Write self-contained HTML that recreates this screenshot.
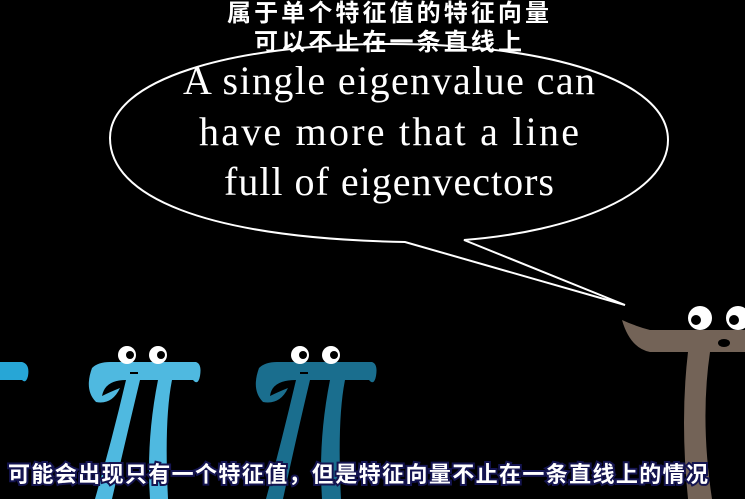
<!DOCTYPE html>
<html><head><meta charset="utf-8"><style>
html,body{margin:0;padding:0;background:#000;width:745px;height:499px;overflow:hidden}
svg{display:block}
.cn{font-family:"Liberation Sans","Noto Sans CJK SC",sans-serif;font-weight:bold}
.en{font-family:"Liberation Serif","DejaVu Serif",serif}
</style></head><body>
<svg width="745" height="499" viewBox="0 0 745 499">
<rect width="745" height="499" fill="#000"/>

<g>
<path d="M405,242 C200,238 110,195 110,138 C110,80 230,44 389,44 C548,44 668,80 668,140 C668,195 570,232 464,240 L625,305 Z" fill="none" stroke="#fff" stroke-width="2"/>
</g>

<text class="cn" x="388" y="21" font-size="24" fill="#fff" text-anchor="middle" textLength="322">属于单个特征值的特征向量</text>
<text class="cn" x="388" y="50" font-size="24" fill="#fff" text-anchor="middle" textLength="268">可以不止在一条直线上</text>

<g class="en" fill="#fff" font-size="40" text-anchor="middle">
<text x="389" y="94" textLength="412">A single eigenvalue can</text>
<text x="389" y="145" textLength="380">have more that a line</text>
<text x="389" y="195" textLength="330">full of eigenvectors</text>
</g>

<g fill="#27a6d6">
<path d="M0,362 L22,362 Q30,364 28,376 Q26,384 22,380 L0,380 Z"/>
</g>

<g>
<path fill="#4fb9e0" d="M92,368 Q98,362 110,362 L196,362 Q202,364 200,376 Q198,386 193,380 L172,380 Q164,420 168,499 L150,499 Q146,440 158,380 L140,380 Q128,430 112,499 L95,499 Q112,440 126,380 Q105,380 102,396 Q110,392 120,388 Q112,405 96,402 Q84,390 92,368 Z"/>
<circle cx="127" cy="355" r="9" fill="#fff"/><circle cx="130" cy="355" r="4" fill="#000"/>
<circle cx="158" cy="355" r="9" fill="#fff"/><circle cx="161" cy="355" r="4" fill="#000"/>
<rect x="130" y="372" width="8" height="2" fill="#000"/>
</g>

<g>
<path fill="#1a6e8e" d="M259,368 Q265,362 277,362 L372,362 Q378,364 376,376 Q374,386 369,380 L345,380 Q337,420 341,499 L322,499 Q318,440 330,380 L310,380 Q298,430 283,499 L266,499 Q282,440 296,380 Q272,380 270,396 Q278,392 288,388 Q280,405 263,402 Q251,390 259,368 Z"/>
<circle cx="300" cy="355" r="9" fill="#fff"/><circle cx="303" cy="355" r="4" fill="#000"/>
<circle cx="331" cy="355" r="9" fill="#fff"/><circle cx="334" cy="355" r="4" fill="#000"/>
<rect x="300" y="372" width="8" height="2" fill="#000"/>
</g>

<g>
<path fill="#736357" d="M622,320 Q635,326 650,330 L745,330 L745,352 L710,352 Q700,420 712,499 L688,499 Q680,420 688,352 L650,352 Q630,348 622,320 Z"/>
<circle cx="700" cy="318" r="12" fill="#fff"/><circle cx="696" cy="320" r="5" fill="#000"/>
<circle cx="738" cy="318" r="12" fill="#fff"/><circle cx="734" cy="320" r="5" fill="#000"/>
<ellipse cx="724" cy="343" rx="6" ry="4" fill="#000"/>
</g>

<text class="cn" x="8" y="482" font-size="22" fill="#fff" stroke="#141450" stroke-width="4" paint-order="stroke" textLength="700">可能会出现只有一个特征值，但是特征向量不止在一条直线上的情况</text>
</svg>
</body></html>
